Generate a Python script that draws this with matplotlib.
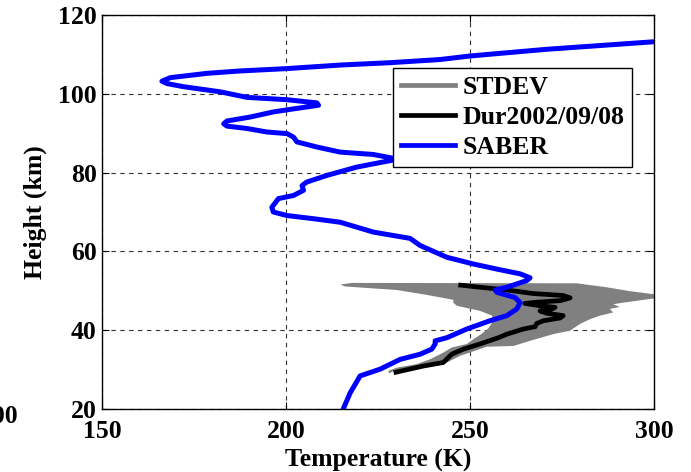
import matplotlib
matplotlib.use('Agg')
import matplotlib.pyplot as plt
from matplotlib.lines import Line2D

plt.rcParams['font.family'] = 'Liberation Serif'
plt.rcParams['font.weight'] = 'bold'
plt.rcParams['font.size'] = 18.5

# SABER profile (height km, temperature K)
saber_h = [20.0, 24.1, 28.4, 30.1, 32.6, 33.9, 35.2, 36.5, 37.3, 38.1, 40.3, 42.4, 43.7, 45.4,
           47.0, 48.3, 49.6, 50.2, 50.9, 52.6, 53.3, 54.3, 55.5, 56.8, 58.5, 61.5, 63.3, 64.9,
           67.4, 68.3, 69.1, 70.0, 71.2, 73.4, 74.2, 75.5, 76.7, 77.6, 79.3, 81.4, 82.8, 83.4,
           84.6, 85.2, 86.5, 87.8, 89.0, 89.9, 90.3, 91.2, 91.8, 92.4, 93.1, 94.1, 95.4, 96.3,
           97.1, 97.7, 98.5, 99.1, 100.5, 101.8, 102.6, 103.2, 104.1, 105.2, 105.8, 106.4,
           107.3, 107.9, 108.7, 109.6, 111.3, 113.2, 113.5]
saber_t = [215.5, 217.4, 220.1, 225.5, 231.0, 236.4, 239.6, 240.5, 240.5, 243.7, 249.1, 255.4,
           260.0, 262.7, 263.6, 262.2, 257.3, 256.8, 260.0, 265.4, 266.3, 263.6, 257.3, 250.9,
           243.7, 236.4, 233.7, 223.7, 214.7, 207.4, 200.2, 196.5, 196.1, 197.9, 202.0, 204.7,
           204.3, 205.6, 211.1, 219.2, 226.9, 230.4, 223.7, 214.7, 208.3, 202.9, 202.0, 200.2,
           194.8, 189.3, 183.9, 183.0, 183.9, 190.2, 196.5, 202.9, 208.8, 208.3, 200.2, 189.3,
           182.1, 172.1, 167.6, 166.2, 168.5, 178.5, 187.5, 200.2, 214.7, 228.3, 241.8, 250.0,
           270.8, 299.8, 305.0]

# Durban lidar 2002/09/08
dur_h = [51.5, 50.9, 50.2, 49.3, 48.8, 48.2, 47.5, 47.1, 46.8, 46.2, 45.8, 45.1, 44.9, 44.3,
         43.7, 43.1, 42.4, 41.7, 40.9, 40.3, 39.0, 38.1, 36.5, 35.2, 33.9, 31.8, 30.9, 29.2]
dur_t = [246.8, 252.7, 260.0, 267.2, 275.3, 277.2, 274.5, 268.1, 264.9, 269.0, 273.1, 271.7,
         269.0, 270.8, 275.3, 274.5, 269.9, 268.1, 267.7, 264.5, 260.0, 257.7, 252.7, 248.2,
         245.0, 242.7, 237.3, 229.2]

# STDEV envelope outline (right side top->bottom, then left side bottom->top)
std_t = [214.7, 218.0, 279.0, 287.1, 293.5, 301.0, 301.0, 291.7, 288.9, 290.7, 288.0, 288.9,
         285.3, 282.6, 279.9, 277.2, 272.6, 266.3, 261.8, 254.5, 247.3, 243.7, 236.4, 229.2,
         228.0, 227.8, 230.1, 235.5, 239.1, 242.7, 245.0, 249.1, 250.9, 253.0, 255.0, 256.0,
         256.0, 252.7, 246.4, 245.4, 245.5, 238.0, 230.1, 216.0]
std_h = [51.6, 52.0, 51.9, 50.9, 49.9, 49.0, 48.2, 47.0, 46.6, 45.9, 45.4, 44.5,
         43.7, 42.8, 41.6, 39.9, 39.0, 37.3, 36.0, 35.8, 33.5, 31.8, 30.9, 29.7,
         29.0, 29.7, 30.5, 31.4, 32.6, 34.3, 35.6, 36.5, 37.7, 39.0, 40.5, 42.0,
         43.7, 44.9, 46.2, 47.0, 47.7, 49.0, 50.2, 51.1]

fig = plt.figure(figsize=(6.91, 4.72), dpi=100)
ax = fig.add_axes([0.148, 0.1335, 0.7985, 0.8347])

ax.fill(std_t, std_h, color='#808080', lw=0, zorder=2)
ax.plot(dur_t, dur_h, color='k', lw=3.4, zorder=3, solid_capstyle='butt')
ax.plot(saber_t, saber_h, color='#0000ff', lw=3.6, zorder=4)

ax.set_xlim(150, 300)
ax.set_ylim(20, 120)
ax.set_xticks([150, 200, 250, 300])
ax.set_yticks([20, 40, 60, 80, 100, 120])
ax.grid(True, color='0.2', linestyle=(0, (4, 4)), lw=0.8)
ax.tick_params(direction='in', top=True, right=True, length=5, width=0.8)
ax.tick_params(axis='x', pad=8)
ax.tick_params(axis='y', pad=4)
for s in ax.spines.values():
    s.set_linewidth(1.0)

ax.set_xlabel('Temperature (K)', fontweight='bold', labelpad=4)
ax.set_ylabel('Height (km)', fontweight='bold', labelpad=8)

handles = [Line2D([], [], color='#808080', lw=3.4),
           Line2D([], [], color='k', lw=3.4),
           Line2D([], [], color='#0000ff', lw=3.4)]
leg = ax.legend(handles, ['STDEV', 'Dur2002/09/08', 'SABER'], loc='upper left',
                bbox_to_anchor=(0.527, 0.865), borderaxespad=0, fancybox=False,
                handlelength=2.1, handletextpad=0.3, labelspacing=0.28,
                borderpad=0.3, framealpha=1, edgecolor='k')
leg.get_frame().set_linewidth(1.0)
leg.set_zorder(10)

# clipped tick label left over from a neighbouring panel
fig.text(0.026, 0.118, '100', ha='right', va='center', fontsize=18.5, fontweight='bold')

fig.savefig('out.png', dpi=100)
